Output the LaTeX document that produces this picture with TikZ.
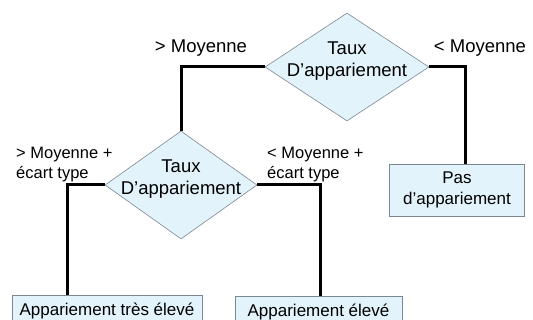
\documentclass[tikz,border=0pt]{standalone}
\usepackage{fontspec}
\setmainfont{Liberation Sans}
\usetikzlibrary{positioning,shapes.geometric}
\definecolor{palecyan}{RGB}{226,243,251}
\definecolor{edgegray}{RGB}{125,135,145}

\begin{document}
\begin{tikzpicture}[x=1pt, y=-1pt,
  decision/.style={diamond, draw=edgegray, line width=0.6pt, fill=palecyan,
    inner sep=-10pt, shape aspect=1.5, minimum width=164pt, minimum height=108pt,
    align=center, text depth=15pt, font=\fontsize{18.5}{22}\selectfont},
  outcome/.style={rectangle, draw=edgegray, line width=0.6pt, fill=palecyan,
    inner sep=0pt, align=center, font=\fontsize{17}{21}\selectfont},
  cond/.style={inner sep=0pt, align=left, font=\fontsize{16.5}{20}\selectfont},
  link/.style={line width=3pt}]

\useasboundingbox (0,0) rectangle (533,320);

% decisions
\node[decision] (taux) at (347,67) {Taux\\D'appariement};
\node[decision, minimum width=152pt] (tauxmid) at (181,185) {Taux\\D'appariement};

% outcomes
\node[outcome, minimum width=135pt, minimum height=52pt] (pas) at (457,190) {Pas\\d'appariement};
\node[outcome, minimum width=190pt, minimum height=32pt] (tres) at (107,311) {Appariement très élevé};
\node[outcome, minimum width=167pt, minimum height=32pt] (eleve) at (318.5,312) {Appariement élevé};

% conditions
\node[cond, font=\fontsize{18.5}{22}\selectfont] (supmoy) at (201,48) {> Moyenne};
\node[cond, font=\fontsize{18.5}{22}\selectfont] (infmoy) at (480,48) {< Moyenne};
\node[cond, anchor=west] (supet) at (16,165) {> Moyenne +\\écart type};
\node[cond, anchor=west] (infet) at (267,165) {< Moyenne +\\écart type};

% connectors
\draw[link] (taux.west) -| (tauxmid.north);
\draw[link] (taux.east) -| ([xshift=8pt]pas.north);
\draw[link] (tauxmid.west) -| ([xshift=-40pt]tres.north);
\draw[link] (tauxmid.east) -| ([xshift=1.5pt]eleve.north);

\end{tikzpicture}
\end{document}
